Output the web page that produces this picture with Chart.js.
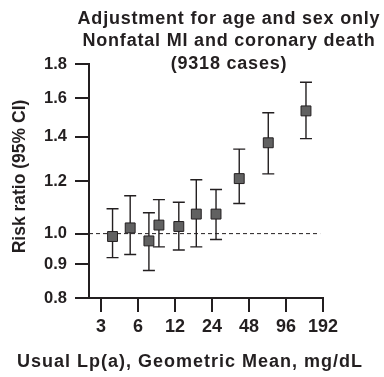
<!DOCTYPE html>
<html>
<head>
<meta charset="utf-8">
<script src="https://cdn.jsdelivr.net/npm/chart.js@4"></script>
<style>
  body { margin: 0; background: #fff; }
  #wrap { width: 384px; height: 377px; }
</style>
</head>
<body>
<div id="wrap"><canvas id="grafico" width="384" height="377"></canvas></div>
<script>
// Lp(a) geometric mean of each group (mg/dL)
const lpa = [3.73, 5.19, 7.37, 8.89, 12.9, 17.9, 25.9, 40.0, 68.9, 139.6];
const riskRatio = [0.99, 1.02, 0.975, 1.03, 1.025, 1.07, 1.07, 1.21, 1.37, 1.53];
const ciLower = [0.92, 0.93, 0.88, 0.955, 0.945, 0.955, 0.98, 1.11, 1.23, 1.39];
const ciUpper = [1.09, 1.14, 1.075, 1.125, 1.115, 1.205, 1.165, 1.34, 1.52, 1.69];
const xTicks = [3, 6, 12, 24, 48, 96, 192];
const yTicks = [0.8, 0.9, 1.0, 1.2, 1.4, 1.6, 1.8];
const refValue = 1.0;
const titleLines = ['Adjustment for age and sex only', 'Nonfatal MI and coronary death', '(9318 cases)'];
const xTitle = 'Usual Lp(a), Geometric Mean, mg/dL';
const yTitle = 'Risk ratio (95% CI)';

const fam = '"Liberation Sans", Arial, Helvetica, sans-serif';
const ink = '#231f20';

// barras de erro (IC 95%) desenhadas com as escalas do grafico
const errorBars = {
  id: 'errorBars',
  beforeDatasetsDraw(chart) {
    const { ctx, scales: { x, y } } = chart;
    ctx.save();
    ctx.strokeStyle = ink;
    ctx.lineWidth = 1.4;
    for (let i = 0; i < lpa.length; i++) {
      const px = x.getPixelForValue(lpa[i]);
      const top = y.getPixelForValue(ciUpper[i]);
      const bot = y.getPixelForValue(ciLower[i]);
      ctx.beginPath();
      ctx.moveTo(px, top); ctx.lineTo(px, bot);
      ctx.moveTo(px - 6, top); ctx.lineTo(px + 6, top);
      ctx.moveTo(px - 6, bot); ctx.lineTo(px + 6, bot);
      ctx.stroke();
    }
    ctx.restore();
  }
};

// titulos (o titulo do grafico fica por cima da area do grafico)
const titles = {
  id: 'titles',
  afterDraw(chart) {
    const ctx = chart.ctx;
    ctx.save();
    ctx.fillStyle = ink;
    ctx.textAlign = 'center';
    ctx.textBaseline = 'middle';
    ctx.font = 'bold 18px ' + fam;
    ctx.letterSpacing = '0.8px';
    titleLines.forEach((t, i) => ctx.fillText(t, 229, 19 + i * 22.5));
    ctx.letterSpacing = '1px';
    ctx.fillText(xTitle, 190, 362);
    ctx.letterSpacing = '0px';
    ctx.font = 'bold 17.5px ' + fam;
    ctx.translate(20.5, 176.5);
    ctx.rotate(-Math.PI / 2);
    ctx.fillText(yTitle, 0, 0);
    ctx.restore();
  }
};

const ctx = document.getElementById('grafico').getContext('2d');
new Chart(ctx, {
  type: 'scatter',
  data: {
    datasets: [{
      data: lpa.map((v, i) => ({ x: v, y: riskRatio[i] })),
      pointStyle: 'rect',
      pointRadius: 7,
      pointHoverRadius: 7,
      backgroundColor: '#616161',
      borderColor: ink,
      borderWidth: 1
    }, {
      type: 'line',
      data: [{ x: 2.4, y: refValue }, { x: 182, y: refValue }],
      borderColor: ink,
      borderWidth: 1,
      borderDash: [4, 3],
      pointRadius: 0
    }]
  },
  options: {
    responsive: false,
    animation: false,
    layout: { padding: { top: 64, right: 61, left: 0, bottom: 0 } },
    plugins: { legend: { display: false }, tooltip: { enabled: false } },
    scales: {
      x: {
        type: 'logarithmic',
        min: 2.4,
        max: 192,
        afterBuildTicks: s => { s.ticks = xTicks.map(v => ({ value: v })); },
        afterFit: s => { s.height = 79; },
        ticks: { callback: v => String(v), color: ink, font: { family: fam, size: 18, weight: 'bold' }, padding: 4, maxRotation: 0 },
        grid: { drawOnChartArea: false, tickLength: 14, color: ink, lineWidth: 2 },
        border: { color: ink, width: 2 }
      },
      y: {
        type: 'logarithmic',
        min: 0.8,
        max: 1.8,
        afterBuildTicks: s => { s.ticks = yTicks.map(v => ({ value: v })); },
        afterFit: s => { s.width = 89; },
        ticks: { callback: v => Number(v).toFixed(1), color: ink, font: { family: fam, size: 16.5, weight: 'bold' }, padding: 8 },
        grid: { drawOnChartArea: false, tickLength: 14, color: ink, lineWidth: 2 },
        border: { color: ink, width: 2 }
      }
    }
  },
  plugins: [errorBars, titles]
});
</script>
</body>
</html>
